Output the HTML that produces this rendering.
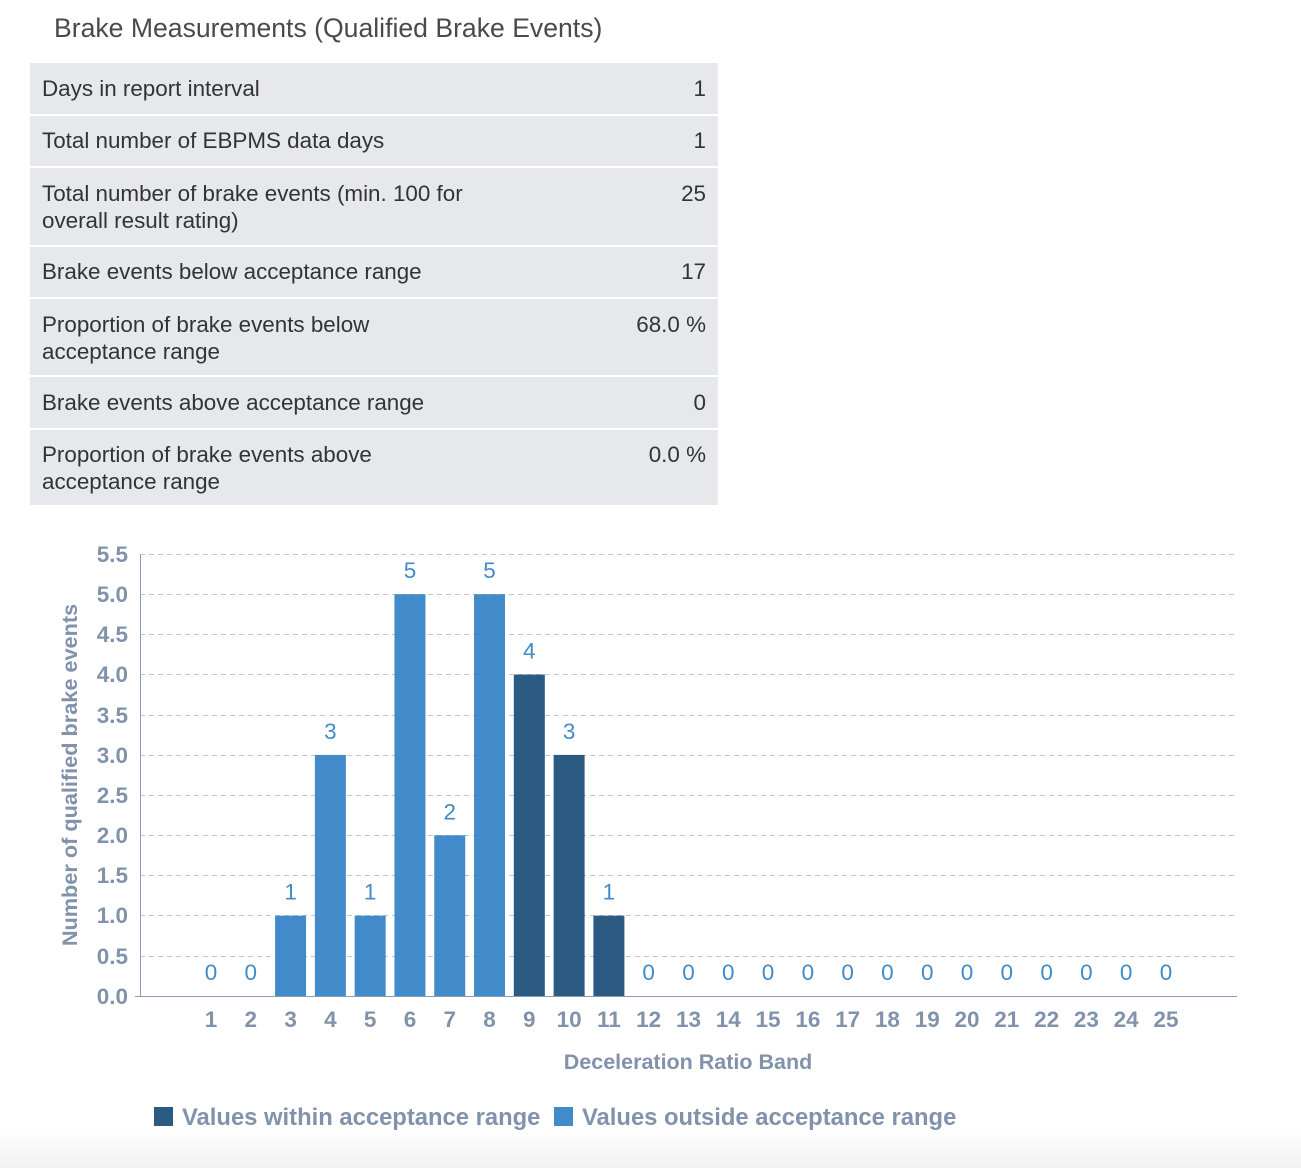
<!DOCTYPE html>
<html><head><meta charset="utf-8"><style>
body{margin:0;width:1301px;height:1168px;background:#fff;font-family:"Liberation Sans",sans-serif;position:relative;overflow:hidden}
.title{position:absolute;left:54px;top:13px;font-size:26.6px;color:#4a4a4a}
.tbl{position:absolute;left:30px;top:63px;width:688px}
.row{background:#e7e8ec;margin-bottom:2px;position:relative;font-size:22.4px;color:#333;box-sizing:border-box;padding:0 12px}
.row .v{position:absolute;right:12px}
.bg{position:absolute;left:0;top:1130px;width:1301px;height:38px;background:linear-gradient(#fff,#f1f1f1)}
</style></head><body>
<div class="title">Brake Measurements (Qualified Brake Events)</div>
<div class="tbl">
<div class="row" style="height:51px;line-height:51px">Days in report interval<span class="v">1</span></div>
<div class="row" style="height:50px;line-height:50px">Total number of EBPMS data days<span class="v">1</span></div>
<div class="row" style="height:77px;padding-top:12px;line-height:27px">Total number of brake events (min. 100 for<br>overall result rating)<span class="v" style="top:12px">25</span></div>
<div class="row" style="height:50px;line-height:50px">Brake events below acceptance range<span class="v">17</span></div>
<div class="row" style="height:76px;padding-top:12px;line-height:27px">Proportion of brake events below<br>acceptance range<span class="v" style="top:12px">68.0 %</span></div>
<div class="row" style="height:51px;line-height:51px">Brake events above acceptance range<span class="v">0</span></div>
<div class="row" style="height:75px;padding-top:11px;line-height:27px">Proportion of brake events above<br>acceptance range<span class="v" style="top:11px">0.0 %</span></div>
</div>
<div class="bg"></div>
<svg width="1301" height="1168" style="position:absolute;left:0;top:0" font-family="Liberation Sans, sans-serif">
<g stroke="#c4c4c4" stroke-dasharray="5,4" stroke-width="1">
<line x1="140" x2="1237" y1="554.5" y2="554.5"/><line x1="140" x2="1237" y1="594.5" y2="594.5"/>
<line x1="140" x2="1237" y1="634.5" y2="634.5"/><line x1="140" x2="1237" y1="674.5" y2="674.5"/>
<line x1="140" x2="1237" y1="715.5" y2="715.5"/><line x1="140" x2="1237" y1="755.5" y2="755.5"/>
<line x1="140" x2="1237" y1="795.5" y2="795.5"/><line x1="140" x2="1237" y1="835.5" y2="835.5"/>
<line x1="140" x2="1237" y1="875.5" y2="875.5"/><line x1="140" x2="1237" y1="915.5" y2="915.5"/>
<line x1="140" x2="1237" y1="956.5" y2="956.5"/>
</g>
<line x1="140.5" x2="140.5" y1="554" y2="996" stroke="#8a9cb3"/>
<line x1="135" x2="1237" y1="996.5" y2="996.5" stroke="#8a9cb3"/>
<g fill="#8193aa" font-size="22.5" font-weight="bold" text-anchor="end">
<text x="128" y="562">5.5</text><text x="128" y="602">5.0</text><text x="128" y="642">4.5</text>
<text x="128" y="682">4.0</text><text x="128" y="723">3.5</text><text x="128" y="763">3.0</text>
<text x="128" y="803">2.5</text><text x="128" y="843">2.0</text><text x="128" y="883">1.5</text>
<text x="128" y="923">1.0</text><text x="128" y="964">0.5</text><text x="128" y="1004">0.0</text>
</g>
<text transform="translate(77,775) rotate(-90)" fill="#8193aa" font-size="21.7" font-weight="bold" text-anchor="middle">Number of qualified brake events</text>
<text x="688" y="1069" fill="#8193aa" font-size="21.5" font-weight="bold" text-anchor="middle">Deceleration Ratio Band</text>
<rect x="154" y="1107" width="19" height="19" fill="#2b5a82"/>
<text x="182" y="1125" fill="#8193aa" font-size="23.8" font-weight="bold">Values within acceptance range</text>
<rect x="554" y="1107" width="19" height="19" fill="#428bca"/>
<text x="582" y="1125" fill="#8193aa" font-size="23.8" font-weight="bold">Values outside acceptance range</text>
<g id="g2"></g>
</svg>
<script>
var v=[0,0,1,3,1,5,2,5,4,3,1,0,0,0,0,0,0,0,0,0,0,0,0,0,0];
var ns="http://www.w3.org/2000/svg",g=document.getElementById("g2");
function el(t,a,txt){var e=document.createElementNS(ns,t);for(var k in a)e.setAttribute(k,a[k]);if(txt!=null)e.textContent=txt;g.appendChild(e);}
for(var i=0;i<25;i++){var c=211+i*39.79,h=v[i]*80.36,col=(i>=8&&i<=10)?"#2b5a82":"#428bca";
if(v[i]>0)el("rect",{x:c-15.5,y:996-h,width:31,height:h,fill:col});
el("text",{x:c,y:996-h-16,fill:"#428bca","font-size":22.5,"text-anchor":"middle"},v[i]);
el("text",{x:c,y:1027,fill:"#8193aa","font-size":22.5,"font-weight":"bold","text-anchor":"middle"},i+1);}
</script>
</body></html>
